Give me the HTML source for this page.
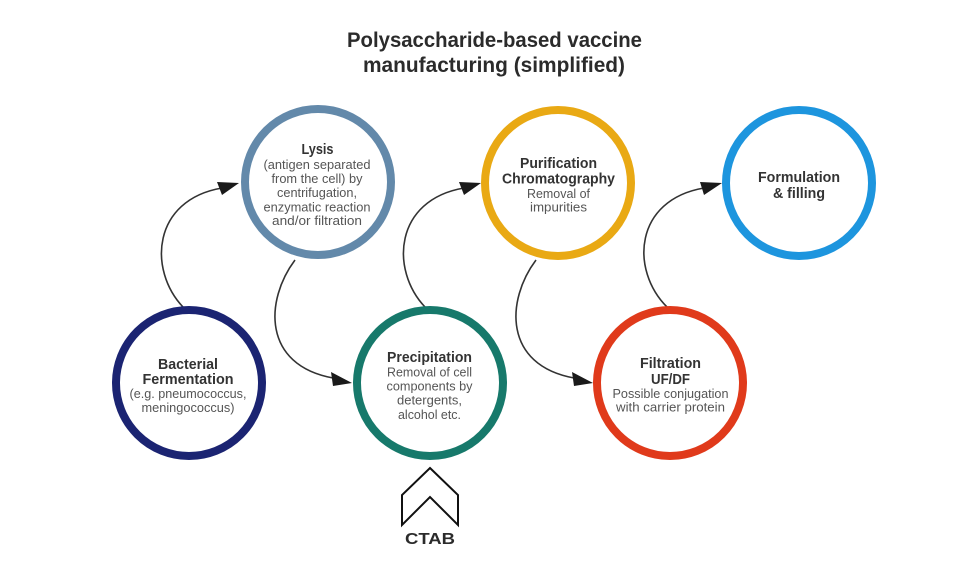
<!DOCTYPE html>
<html>
<head>
<meta charset="utf-8">
<style>
  html, body { margin: 0; padding: 0; background: #ffffff; }
  body { width: 975px; height: 573px; overflow: hidden; }
  svg { display: block; }
  .t { font-family: "Liberation Sans", "DejaVu Sans", sans-serif; font-weight: bold; fill: #2b2b2b; }
  .h { font-family: "Liberation Sans", "DejaVu Sans", sans-serif; font-weight: bold; font-size: 14.5px; fill: #333333; }
  .n { font-family: "Liberation Sans", "DejaVu Sans", sans-serif; font-size: 13px; fill: #555555; }
</style>
</head>
<body>
<svg width="975" height="573" viewBox="0 0 975 573" xmlns="http://www.w3.org/2000/svg">
  <rect width="975" height="573" fill="#ffffff"/>

  <!-- Title -->
  <text class="t" x="494.5" y="47" font-size="21" text-anchor="middle" textLength="295" lengthAdjust="spacingAndGlyphs">Polysaccharide-based vaccine</text>
  <text class="t" x="494" y="72" font-size="21" text-anchor="middle" textLength="262" lengthAdjust="spacingAndGlyphs">manufacturing (simplified)</text>

  <!-- Connectors -->
  <g fill="none" stroke="#333333" stroke-width="1.6">
    <path d="M183,307 C148,270 152,200 222,188"/>
    <path d="M295,260 C265,300 262,365 333,378"/>
    <path d="M425,307 C390,270 394,200 464,188"/>
    <path d="M536,260 C506,300 503,365 574,378"/>
    <path d="M667,307 C630,270 634,200 704,188"/>
  </g>
  <g fill="#1a1a1a">
    <polygon points="239,183 217,182 222,195"/>
    <polygon points="352,383 331,372 333,386"/>
    <polygon points="481,183 459,182 464,195"/>
    <polygon points="593,383 572,372 574,386"/>
    <polygon points="722,183 700,182 704,195"/>
  </g>

  <!-- Circles -->
  <g fill="#ffffff" stroke-width="8">
    <circle cx="189" cy="383" r="73" stroke="#1b2472"/>
    <circle cx="318" cy="182" r="73" stroke="#6389aa"/>
    <circle cx="430" cy="383" r="73" stroke="#17796b"/>
    <circle cx="558" cy="183" r="73" stroke="#e9a914"/>
    <circle cx="670" cy="383" r="73" stroke="#e03a1b"/>
    <circle cx="799" cy="183" r="73" stroke="#1d95de"/>
  </g>

  <!-- Bacterial Fermentation -->
  <text class="h" x="188" y="369" text-anchor="middle" textLength="60" lengthAdjust="spacingAndGlyphs">Bacterial</text>
  <text class="h" x="188" y="384" text-anchor="middle" textLength="91" lengthAdjust="spacingAndGlyphs">Fermentation</text>
  <text class="n" x="188" y="398" text-anchor="middle" textLength="117" lengthAdjust="spacingAndGlyphs">(e.g. pneumococcus,</text>
  <text class="n" x="188" y="412" text-anchor="middle" textLength="93" lengthAdjust="spacingAndGlyphs">meningococcus)</text>

  <!-- Lysis -->
  <text class="h" x="317.5" y="154" text-anchor="middle" textLength="32" lengthAdjust="spacingAndGlyphs">Lysis</text>
  <text class="n" x="317" y="169" text-anchor="middle" textLength="107" lengthAdjust="spacingAndGlyphs">(antigen separated</text>
  <text class="n" x="317" y="183" text-anchor="middle" textLength="91" lengthAdjust="spacingAndGlyphs">from the cell) by</text>
  <text class="n" x="317" y="197" text-anchor="middle" textLength="80" lengthAdjust="spacingAndGlyphs">centrifugation,</text>
  <text class="n" x="317" y="211.5" text-anchor="middle" textLength="107" lengthAdjust="spacingAndGlyphs">enzymatic reaction</text>
  <text class="n" x="317" y="225" text-anchor="middle" textLength="90" lengthAdjust="spacingAndGlyphs">and/or filtration</text>

  <!-- Precipitation -->
  <text class="h" x="429.5" y="362" text-anchor="middle" textLength="85" lengthAdjust="spacingAndGlyphs">Precipitation</text>
  <text class="n" x="429.5" y="376.5" text-anchor="middle" textLength="85" lengthAdjust="spacingAndGlyphs">Removal of cell</text>
  <text class="n" x="429.5" y="390.5" text-anchor="middle" textLength="86" lengthAdjust="spacingAndGlyphs">components by</text>
  <text class="n" x="429.5" y="404.5" text-anchor="middle" textLength="65" lengthAdjust="spacingAndGlyphs">detergents,</text>
  <text class="n" x="429.5" y="419" text-anchor="middle" textLength="63" lengthAdjust="spacingAndGlyphs">alcohol etc.</text>

  <!-- Purification -->
  <text class="h" x="558.5" y="168" text-anchor="middle" textLength="77" lengthAdjust="spacingAndGlyphs">Purification</text>
  <text class="h" x="558.5" y="183.5" text-anchor="middle" textLength="113" lengthAdjust="spacingAndGlyphs">Chromatography</text>
  <text class="n" x="558.5" y="198" text-anchor="middle" textLength="63" lengthAdjust="spacingAndGlyphs">Removal of</text>
  <text class="n" x="558.5" y="211.5" text-anchor="middle" textLength="57" lengthAdjust="spacingAndGlyphs">impurities</text>

  <!-- Filtration -->
  <text class="h" x="670.5" y="368" text-anchor="middle" textLength="61" lengthAdjust="spacingAndGlyphs">Filtration</text>
  <text class="h" x="670.5" y="384" text-anchor="middle" textLength="39" lengthAdjust="spacingAndGlyphs">UF/DF</text>
  <text class="n" x="670.5" y="398" text-anchor="middle" textLength="116" lengthAdjust="spacingAndGlyphs">Possible conjugation</text>
  <text class="n" x="670.5" y="411.5" text-anchor="middle" textLength="109" lengthAdjust="spacingAndGlyphs">with carrier protein</text>

  <!-- Formulation -->
  <text class="h" x="799" y="182" text-anchor="middle" textLength="82" lengthAdjust="spacingAndGlyphs">Formulation</text>
  <text class="h" x="799" y="198" text-anchor="middle" textLength="52" lengthAdjust="spacingAndGlyphs">&amp; filling</text>

  <!-- CTAB chevron -->
  <polygon points="430,468 458,495 458,525 430,497 402,525 402,495" fill="none" stroke="#111111" stroke-width="2" stroke-linejoin="miter"/>
  <text class="t" x="430" y="544" font-size="16" text-anchor="middle" textLength="50" lengthAdjust="spacingAndGlyphs" fill="#222222">CTAB</text>
</svg>
</body>
</html>
